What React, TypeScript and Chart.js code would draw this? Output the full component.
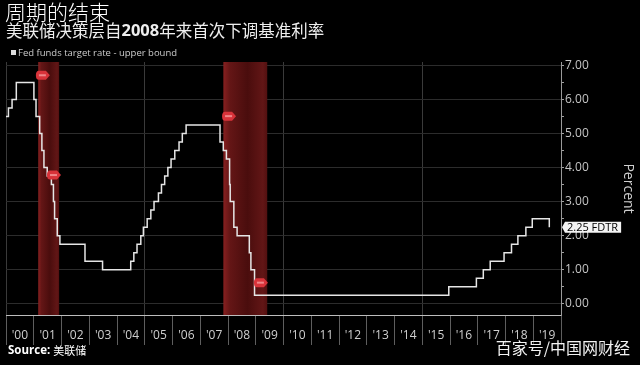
import { useEffect, useRef } from 'react';
import { Chart, registerables } from 'chart.js';

Chart.register(...registerables);

// ---- Data ----
const rateDates = [
  '2000-01-01', '2000-02-02', '2000-03-21', '2000-05-16',
  '2001-01-03', '2001-01-31', '2001-03-20', '2001-04-18', '2001-05-15', '2001-06-27',
  '2001-08-21', '2001-09-17', '2001-10-02', '2001-11-06', '2001-12-11',
  '2002-11-06', '2003-06-25',
  '2004-06-30', '2004-08-10', '2004-09-21', '2004-11-10', '2004-12-14',
  '2005-02-02', '2005-03-22', '2005-05-03', '2005-06-30', '2005-08-09', '2005-09-20', '2005-11-01', '2005-12-13',
  '2006-01-31', '2006-03-28', '2006-05-10', '2006-06-29',
  '2007-09-18', '2007-10-31', '2007-12-11',
  '2008-01-22', '2008-01-30', '2008-03-18', '2008-04-30', '2008-10-08', '2008-10-29', '2008-12-16',
  '2015-12-16', '2016-12-14',
  '2017-03-15', '2017-06-14', '2017-12-13',
  '2018-03-21', '2018-06-13', '2018-09-26', '2018-12-19',
  '2019-07-31',
];
const rateValues = [
  5.5, 5.75, 6.0, 6.5,
  6.0, 5.5, 5.0, 4.5, 4.0, 3.75,
  3.5, 3.0, 2.5, 2.0, 1.75,
  1.25, 1.0,
  1.25, 1.5, 1.75, 2.0, 2.25,
  2.5, 2.75, 3.0, 3.25, 3.5, 3.75, 4.0, 4.25,
  4.5, 4.75, 5.0, 5.25,
  4.75, 4.5, 4.25,
  3.5, 3.0, 2.25, 2.0, 1.5, 1.0, 0.25,
  0.5, 0.75,
  1.0, 1.25, 1.5,
  1.75, 2.0, 2.25, 2.5,
  2.25,
];
const recessionStarts = ['2001-03-01', '2007-11-01'];
const recessionEnds = ['2001-12-01', '2009-06-01'];
const markerDates = ['2001-05-01', '2001-09-24', '2008-01-15', '2009-03-10'];
const markerValues = [6.71, 3.78, 5.51, 0.62];
const yearTicks = [2000, 2001, 2002, 2003, 2004, 2005, 2006, 2007, 2008, 2009, 2010, 2011, 2012, 2013, 2014, 2015, 2016, 2017, 2018, 2019, 2020];
const yearLabels = ["'00", "'01", "'02", "'03", "'04", "'05", "'06", "'07", "'08", "'09", "'10", "'11", "'12", "'13", "'14", "'15", "'16", "'17", "'18", "'19"];
const yTickValues = [0, 0.5, 1, 1.5, 2, 2.5, 3, 3.5, 4, 4.5, 5, 5.5, 6, 6.5, 7];
const lastValueLabel = '2.25 FDTR';
const titleText = '周期的结束';
const subtitleParts = ['美联储决策层自', '2008', '年来首次下调基准利率'];
const legendText = 'Fed funds target rate - upper bound';
const sourceLabel = 'Source:';
const sourceText = '美联储';
const watermarkText = '百家号/中国网财经';

function toYear(s: string): number {
  const [y, m, d] = s.split('-').map(Number);
  const start = Date.UTC(y, 0, 1);
  const end = Date.UTC(y + 1, 0, 1);
  return y + (Date.UTC(y, m - 1, d) - start) / (end - start);
}

const CJK = '"Noto Sans CJK SC", "Noto Sans", sans-serif';
const LAT = '"Open Sans", "Noto Sans", sans-serif';

const decorPlugin = {
  id: 'decor',
  beforeDraw(chart: any) {
    const { ctx, width, height } = chart;
    ctx.save();
    ctx.fillStyle = '#000';
    ctx.fillRect(0, 0, width, height);
    ctx.restore();
  },
  beforeDatasetsDraw(chart: any) {
    const { ctx, chartArea, scales } = chart;
    const xs = scales.x;
    ctx.save();
    for (let i = 0; i < recessionStarts.length; i++) {
      const x1 = xs.getPixelForValue(toYear(recessionStarts[i]));
      const x2 = xs.getPixelForValue(toYear(recessionEnds[i]));
      const g = ctx.createLinearGradient(x1, 0, x2, 0);
      g.addColorStop(0, 'rgba(135,32,32,1)');
      g.addColorStop(0.15, 'rgba(100,22,22,1)');
      g.addColorStop(0.55, 'rgba(74,13,13,1)');
      g.addColorStop(0.9, 'rgba(98,22,22,1)');
      g.addColorStop(1, 'rgba(82,16,16,1)');
      ctx.fillStyle = g;
      ctx.fillRect(x1, chartArea.top, x2 - x1, chartArea.bottom - chartArea.top);
    }
    ctx.restore();
  },
  afterDraw(chart: any) {
    const { ctx, chartArea, scales } = chart;
    const xs = scales.x;
    const ys = scales.y;
    ctx.save();

    // markers
    for (let i = 0; i < markerDates.length; i++) {
      const cx = xs.getPixelForValue(toYear(markerDates[i]));
      const cy = ys.getPixelForValue(markerValues[i]);
      ctx.beginPath();
      ctx.moveTo(cx - 4, cy - 4.5);
      ctx.lineTo(cx + 3, cy - 4.5);
      ctx.lineTo(cx + 7, cy);
      ctx.lineTo(cx + 3, cy + 4.5);
      ctx.lineTo(cx - 4, cy + 4.5);
      ctx.quadraticCurveTo(cx - 7, cy + 4.5, cx - 7, cy);
      ctx.quadraticCurveTo(cx - 7, cy - 4.5, cx - 4, cy - 4.5);
      ctx.closePath();
      ctx.fillStyle = '#d8333a';
      ctx.fill();
      ctx.fillStyle = 'rgba(255,190,190,0.6)';
      ctx.fillRect(cx - 4, cy - 1, 7, 2);
    }

    // x labels centered in each year
    ctx.fillStyle = '#cfcfcf';
    ctx.font = `12px ${LAT}`;
    ctx.textAlign = 'center';
    ctx.textBaseline = 'middle';
    for (let i = 0; i < yearLabels.length; i++) {
      const x = xs.getPixelForValue(yearTicks[i] + 0.5);
      ctx.fillText(yearLabels[i], x, chartArea.bottom + 21);
    }

    // last value label
    const lv = rateValues[rateValues.length - 1];
    const ly = ys.getPixelForValue(lv);
    const bx = chartArea.right + 4;
    ctx.font = `11px ${LAT}`;
    const tw = ctx.measureText(lastValueLabel).width;
    ctx.beginPath();
    ctx.moveTo(chartArea.right + 1, ly);
    ctx.lineTo(bx, ly - 5.5);
    ctx.lineTo(bx + tw + 5, ly - 5.5);
    ctx.lineTo(bx + tw + 5, ly + 5.5);
    ctx.lineTo(bx, ly + 5.5);
    ctx.closePath();
    ctx.fillStyle = '#f4f4f4';
    ctx.fill();
    ctx.fillStyle = '#000';
    ctx.textAlign = 'left';
    ctx.fillText(lastValueLabel, bx + 2, ly + 0.5);

    // titles
    ctx.textAlign = 'left';
    ctx.textBaseline = 'middle';
    ctx.fillStyle = '#ffffff';
    ctx.font = `300 21px ${CJK}`;
    ctx.fillText(titleText, 5, 12);

    let sx = 6;
    ctx.fillStyle = '#eeeeee';
    subtitleParts.forEach((p, i) => {
      ctx.font = i === 1 ? `bold 16.5px ${LAT}` : `16.5px ${CJK}`;
      ctx.fillText(p, sx, 31);
      sx += ctx.measureText(p).width;
    });

    // legend
    ctx.fillStyle = '#dddddd';
    ctx.fillRect(11, 50, 5, 5);
    ctx.fillStyle = '#cccccc';
    ctx.font = `9.5px ${LAT}`;
    ctx.fillText(legendText, 18, 53);

    // source
    ctx.fillStyle = '#ffffff';
    ctx.font = `bold 11.5px ${LAT}`;
    ctx.fillText(sourceLabel, 8, 351);
    const sw = ctx.measureText(sourceLabel + ' ').width;
    ctx.font = `11px ${CJK}`;
    ctx.fillText(sourceText, 8 + sw, 351);

    // watermark
    ctx.textAlign = 'right';
    ctx.font = `16px ${CJK}`;
    ctx.shadowColor = 'rgba(0,0,0,0.8)';
    ctx.shadowBlur = 2;
    ctx.fillStyle = '#f2f2f2';
    ctx.fillText(watermarkText, 630, 348);
    ctx.restore();
  },
};

export default function App() {
  const ref = useRef<HTMLCanvasElement | null>(null);
  useEffect(() => {
    if (!ref.current) return;
    const points = rateDates.map((d, i) => ({ x: toYear(d), y: rateValues[i] }));
    const chart = new Chart(ref.current, {
      type: 'line',
      data: {
        datasets: [
          {
            label: legendText,
            data: points,
            stepped: true,
            borderColor: '#e6e6e6',
            borderWidth: 1.5,
            pointRadius: 0,
            fill: false,
          },
        ],
      },
      options: {
        responsive: false,
        animation: false,
        devicePixelRatio: 1,
        layout: { padding: { left: 6, top: 62, right: 0, bottom: 20 } },
        plugins: { legend: { display: false }, tooltip: { enabled: false }, title: { display: false } },
        scales: {
          x: {
            type: 'linear',
            min: 2000,
            max: 2020,
            afterBuildTicks: (scale: any) => {
              scale.ticks = yearTicks.map((v) => ({ value: v }));
            },
            afterFit: (scale: any) => {
              scale.height = 30;
            },
            ticks: { display: false },
            grid: {
              color: (c: any) =>
                c.tick && c.tick.value % 5 === 0 && c.tick.value < 2020 ? '#3a3a3a' : 'rgba(0,0,0,0)',
              tickColor: '#5e5e5e',
              tickLength: 30,
              lineWidth: 1,
            },
            border: { color: '#bdbdbd', width: 1 },
          },
          y: {
            type: 'linear',
            position: 'right',
            min: -0.33,
            max: 7.1,
            afterBuildTicks: (scale: any) => {
              scale.ticks = yTickValues.map((v) => ({ value: v }));
            },
            afterFit: (scale: any) => {
              scale.width = 79;
            },
            ticks: {
              color: '#c4c4c4',
              font: { size: 12, family: 'Open Sans' },
              padding: 1,
              callback: (v: any) => (Number(v) % 1 === 0 ? Number(v).toFixed(2) : ''),
            },
            grid: {
              color: (c: any) => (c.tick && c.tick.value % 1 === 0 ? '#2c2c2c' : 'rgba(0,0,0,0)'),
              tickColor: '#a0a0a0',
              tickLength: 3,
            },
            border: { color: '#9a9a9a', width: 1 },
            title: {
              display: true,
              text: 'Percent',
              color: '#cfcfcf',
              font: { size: 14, family: 'Open Sans' },
              padding: { top: 4, bottom: 0 },
            },
          },
        },
      },
      plugins: [decorPlugin],
    } as any);
    return () => chart.destroy();
  }, []);
  return (
    <canvas
      ref={ref}
      width={640}
      height={365}
      style={{ position: 'fixed', left: 0, top: 0, width: 640, height: 365, display: 'block' }}
    />
  );
}
